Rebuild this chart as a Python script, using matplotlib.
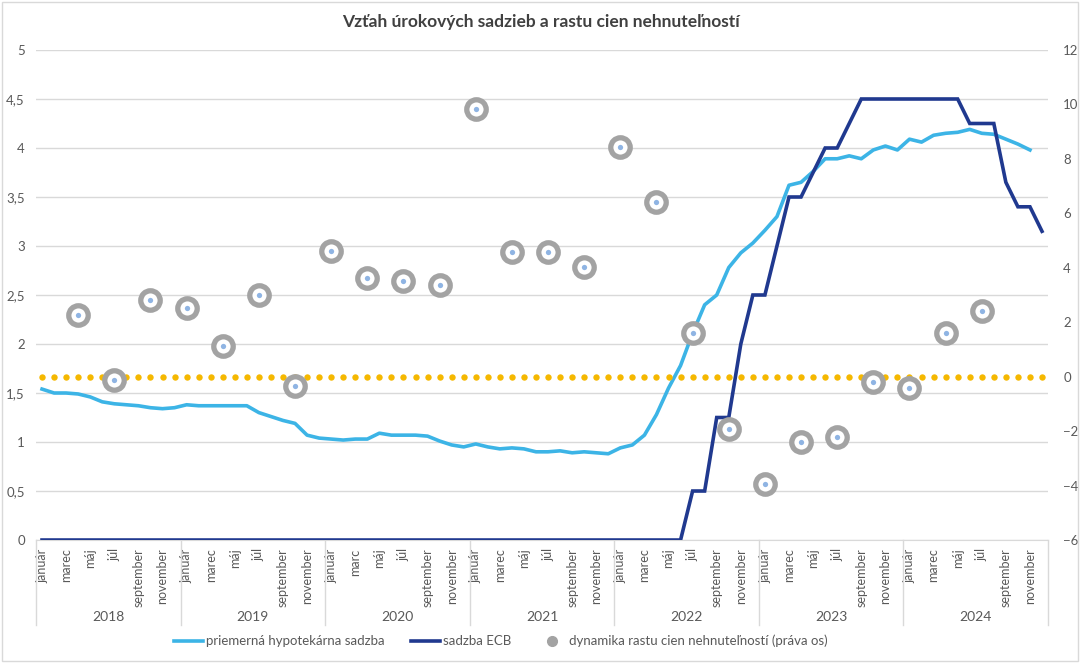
import matplotlib.pyplot as plt
import matplotlib.transforms as mtransforms
from matplotlib.lines import Line2D
from matplotlib.patches import Rectangle

plt.rcParams['font.family'] = ['Lato', 'DejaVu Sans']

# --- data -------------------------------------------------------------
years = ['2018', '2019', '2020', '2021', '2022', '2023', '2024']
month_labels = ['január', 'marec', 'máj', 'júl', 'september', 'november']
month_labels_2020 = ['január', 'marc', 'máj', 'júl', 'september', 'november']

# priemerná hypotekárna sadzba (ľavá os), jan 2018 - nov 2024
mortgage = [
    1.54, 1.50, 1.50, 1.49, 1.46, 1.41, 1.39, 1.38, 1.37, 1.35, 1.34, 1.35,
    1.38, 1.37, 1.37, 1.37, 1.37, 1.37, 1.30, 1.26, 1.22, 1.19, 1.07, 1.04,
    1.03, 1.02, 1.03, 1.03, 1.09, 1.07, 1.07, 1.07, 1.06, 1.01, 0.97, 0.95,
    0.98, 0.95, 0.93, 0.94, 0.93, 0.90, 0.90, 0.91, 0.89, 0.90, 0.89, 0.88,
    0.94, 0.97, 1.07, 1.28, 1.55, 1.78, 2.11, 2.40, 2.50, 2.78, 2.93, 3.03,
    3.16, 3.30, 3.62, 3.65, 3.76, 3.89, 3.89, 3.92, 3.89, 3.98, 4.02, 3.98,
    4.09, 4.06, 4.13, 4.15, 4.16, 4.19, 4.15, 4.14, 4.09, 4.04, 3.98,
]

# sadzba ECB (ľavá os), jan 2018 - dec 2024
ecb = [0.0] * 54 + [
    0.50, 0.50, 1.25, 1.25, 2.00, 2.50,
    2.50, 3.00, 3.50, 3.50, 3.75, 4.00, 4.00, 4.25, 4.50, 4.50, 4.50, 4.50,
    4.50, 4.50, 4.50, 4.50, 4.50, 4.25, 4.25, 4.25, 3.65, 3.40, 3.40, 3.15,
]

# dynamika rastu cien nehnuteľností (pravá os), štvrťročne
price_month = list(range(3, 79, 3))
price_growth = [2.27, -0.12, 2.82, 2.52, 1.13, 3.00, -0.34, 4.63, 3.61, 3.51,
                3.37, 9.83, 4.58, 4.58, 4.03, 8.43, 6.42, 1.60, -1.92, -3.94,
                -2.40, -2.22, -0.20, -0.42, 1.60, 2.41]

n_months = len(years) * 12
zero_line = [0] * n_months

# --- figure -----------------------------------------------------------
fig = plt.figure(figsize=(10.81, 6.63), dpi=100)
ax = fig.add_axes([0.0333, 0.1855, 0.9362, 0.7391])
ax2 = ax.twinx()

grey_txt = '#595959'
grid_c = '#d9d9d9'

ax.plot(range(len(mortgage)), mortgage, color='#3cb4e6', lw=2.6,
        solid_joinstyle='round', zorder=3)
ax.plot(range(len(ecb)), ecb, color='#20398f', lw=2.6,
        solid_joinstyle='miter', zorder=4)

ax2.plot(range(n_months), zero_line, ls='none', marker='o', ms=4.6,
         color='#f5b800', mec='none', zorder=2)
ax2.plot(price_month, price_growth, ls='none', marker='o', ms=14,
         mfc='white', mec='#a3a3a3', mew=3.8, zorder=3)
ax2.plot(price_month, price_growth, ls='none', marker='o', ms=3.8,
         color='#8fb4e3', mec='none', zorder=4)

ax.set_xlim(-0.5, n_months - 0.5)
ax.set_ylim(0, 5)
ax2.set_ylim(-6, 12)

left_ticks = [i * 0.5 for i in range(11)]
ax.set_yticks(left_ticks)
ax.set_yticklabels([('%g' % v).replace('.', ',') for v in left_ticks])
ax2.set_yticks(range(-6, 13, 2))

ax.grid(axis='y', color=grid_c, lw=1)
ax.set_axisbelow(True)

for a in (ax, ax2):
    for s in a.spines.values():
        s.set_visible(False)
ax.spines['bottom'].set_visible(True)
ax.spines['bottom'].set_color(grid_c)

ax.tick_params(axis='y', length=0, pad=8, labelsize=9.5, labelcolor=grey_txt)
ax2.tick_params(axis='y', length=0, pad=11, labelsize=9.5, labelcolor=grey_txt)

# month labels (every other month)
xt, xl = [], []
for k, y in enumerate(years):
    names = month_labels_2020 if y == '2020' else month_labels
    for j, name in enumerate(names):
        xt.append(k * 12 + j * 2)
        xl.append(name)
ax.set_xticks(xt)
ax.set_xticklabels(xl, rotation=90, va='top', ha='center')
ax.tick_params(axis='x', length=0, pad=6, labelsize=9, labelcolor=grey_txt)

# year labels and separators
trans = mtransforms.blended_transform_factory(ax.transData, ax.transAxes)
for k in range(len(years) + 1):
    ax.plot([k * 12 - 0.5] * 2, [0, -0.1735], color=grid_c, lw=1,
            transform=trans, clip_on=False)
for k, y in enumerate(years):
    ax.text(k * 12 + 5.5, -0.157, y, transform=trans, ha='center',
            va='center', fontsize=10, color=grey_txt)

fig.text(0.5, 0.967, 'Vzťah úrokových sadzieb a rastu cien nehnuteľností',
         ha='center', va='center', fontsize=12.5, fontweight='bold',
         color='#404040')

handles = [
    Line2D([], [], color='#3cb4e6', lw=2.6),
    Line2D([], [], color='#20398f', lw=2.6),
    Line2D([], [], ls='none', marker='o', ms=7, color='#a3a3a3'),
]
labels = ['priemerná hypotekárna sadzba', 'sadzba ECB',
          'dynamika rastu cien nehnuteľností (práva os)']
leg = fig.legend(handles, labels, loc='center', bbox_to_anchor=(0.4635, 0.033),
                 ncol=3, frameon=False, fontsize=9.5, handlelength=2.2,
                 handletextpad=0.2, columnspacing=2.0)
for t in leg.get_texts():
    t.set_color(grey_txt)

fig.patches.append(Rectangle((0.002, 0.003), 0.995, 0.994, fill=False,
                             edgecolor=grid_c, lw=1, transform=fig.transFigure))

plt.savefig('out.png', dpi=100)
